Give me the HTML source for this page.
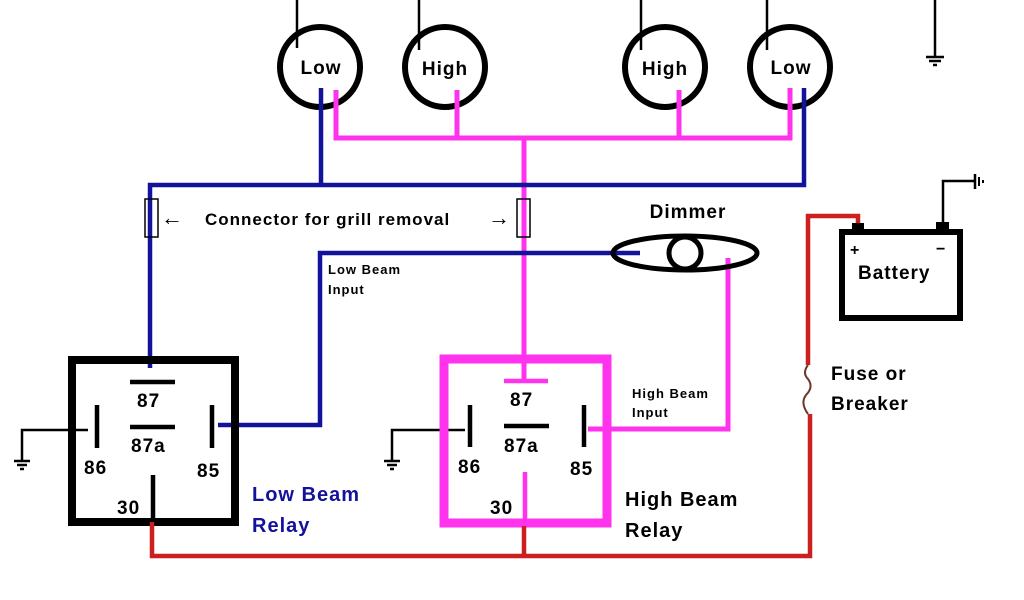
<!DOCTYPE html>
<html><head><style>body{margin:0;background:#fff}svg{display:block}text{font-family:"Liberation Sans",Arial,sans-serif;font-weight:bold;letter-spacing:1px}</style></head>
<body>
<svg width="1024" height="600" viewBox="0 0 1024 600" xmlns="http://www.w3.org/2000/svg">
<rect width="1024" height="600" fill="#fff"/>
<g fill="none" stroke="#000" stroke-width="6">
<circle cx="320" cy="67" r="40"/><circle cx="445" cy="67" r="40"/>
<circle cx="665" cy="67" r="40"/><circle cx="790" cy="67" r="40"/>
</g>
<g stroke="#000" stroke-width="2.5">
<line x1="297" y1="0" x2="297" y2="48"/><line x1="419" y1="0" x2="419" y2="50"/>
<line x1="641" y1="0" x2="641" y2="50"/><line x1="767" y1="0" x2="767" y2="50"/>
<line x1="935" y1="0" x2="935" y2="57"/>
<line x1="926" y1="57" x2="944" y2="57"/><line x1="929" y1="61" x2="941" y2="61"/><line x1="933" y1="65" x2="937" y2="65"/>
</g>
<g font-size="19" text-anchor="middle" fill="#000">
<text x="321" y="74">Low</text><text x="445" y="75">High</text><text x="665" y="75">High</text><text x="791" y="74">Low</text>
</g>
<g fill="none" stroke="#ff33ee" stroke-width="5">
<polyline points="336,90 336,138 790,138 790,88"/>
<line x1="457" y1="90" x2="457" y2="138"/><line x1="679" y1="90" x2="679" y2="138"/>
<line x1="524" y1="138" x2="524" y2="381"/>
<polyline points="728,258 728,429 588,429"/>
</g>
<g fill="none" stroke="#12129a" stroke-width="4.5">
<polyline points="321,88 321,185"/>
<polyline points="804,88 804,185 150,185 150,368"/>
<polyline points="640,253 320,253 320,425 218,425"/>
</g>
<g fill="none" stroke="#000" stroke-width="1.5">
<rect x="145" y="199" width="13" height="38"/><rect x="517" y="199" width="13" height="38"/>
</g>
<text x="161" y="225" font-size="22" font-weight="normal">←</text>
<text x="205" y="225" font-size="17">Connector for grill removal</text>
<text x="488" y="225" font-size="22" font-weight="normal">→</text>
<text x="688" y="218" font-size="19" text-anchor="middle">Dimmer</text>
<ellipse cx="685" cy="253" rx="72" ry="17" fill="none" stroke="#000" stroke-width="5"/>
<circle cx="685" cy="253" r="16" fill="none" stroke="#000" stroke-width="5"/>
<text x="328" y="274" font-size="13">Low Beam</text><text x="328" y="294" font-size="13">Input</text>
<text x="632" y="398" font-size="13">High Beam</text><text x="632" y="417" font-size="13">Input</text>
<rect x="72" y="360" width="163" height="162" fill="none" stroke="#000" stroke-width="8"/>
<g stroke="#000" stroke-width="4.5">
<line x1="130" y1="382" x2="175" y2="382"/><line x1="130" y1="427" x2="175" y2="427"/>
<line x1="97" y1="405" x2="97" y2="448"/><line x1="212" y1="405" x2="212" y2="448"/>
<line x1="153" y1="475" x2="153" y2="518"/>
</g>
<g stroke="#000" stroke-width="2.5" fill="none">
<polyline points="88,430 22,430 22,460"/>
<line x1="14" y1="461" x2="30" y2="461"/><line x1="17" y1="465" x2="27" y2="465"/><line x1="20" y1="469" x2="24" y2="469"/>
<polyline points="465,430 392,430 392,460"/>
<line x1="384" y1="461" x2="400" y2="461"/><line x1="387" y1="465" x2="397" y2="465"/><line x1="390" y1="469" x2="394" y2="469"/>
</g>
<g font-size="19" fill="#000">
<text x="137" y="407">87</text><text x="131" y="452">87a</text>
<text x="84" y="474">86</text><text x="197" y="477">85</text><text x="117" y="514">30</text>
</g>
<text x="252" y="501" font-size="20" fill="#12129a">Low Beam</text>
<text x="252" y="532" font-size="20" fill="#12129a">Relay</text>
<rect x="444" y="359" width="163" height="164" fill="none" stroke="#ff33ee" stroke-width="9"/>
<line x1="504" y1="381" x2="548" y2="381" stroke="#ff33ee" stroke-width="4.5"/>
<g stroke="#000" stroke-width="4.5">
<line x1="504" y1="426" x2="549" y2="426"/>
<line x1="470" y1="405" x2="470" y2="447"/><line x1="584" y1="405" x2="584" y2="447"/>
</g>
<line x1="525" y1="472" x2="525" y2="520" stroke="#ff33ee" stroke-width="4.5"/>
<g font-size="19" fill="#000">
<text x="510" y="406">87</text><text x="504" y="452">87a</text>
<text x="458" y="473">86</text><text x="570" y="475">85</text><text x="490" y="514">30</text>
</g>
<text x="625" y="506" font-size="20" fill="#000">High Beam</text>
<text x="625" y="537" font-size="20" fill="#000">Relay</text>
<g fill="none" stroke="#cc1f1f" stroke-width="4.5">
<polyline points="152,522 152,556 810,556 810,414"/>
<line x1="524" y1="526" x2="524" y2="556"/>
<polyline points="808,365 808,216 858,216 858,230"/>
</g>
<path d="M808,365 q-6,8 0,14 q6,8 -2,16 q-6,8 2,19" fill="none" stroke="#6b3a2a" stroke-width="2"/>
<rect x="842" y="232" width="118" height="86" fill="none" stroke="#000" stroke-width="6"/>
<rect x="852" y="223" width="12" height="9" fill="#000"/><rect x="936" y="222" width="13" height="9" fill="#000"/>
<polyline points="943,222 943,181 975,181" fill="none" stroke="#000" stroke-width="2.5"/>
<line x1="975" y1="174" x2="975" y2="189" stroke="#000" stroke-width="2.5"/>
<line x1="979" y1="177" x2="979" y2="186" stroke="#000" stroke-width="2"/>
<line x1="983" y1="180" x2="983" y2="183" stroke="#000" stroke-width="2"/>
<text x="850" y="255" font-size="16">+</text><text x="936" y="254" font-size="16">−</text>
<text x="858" y="279" font-size="19">Battery</text>
<text x="831" y="380" font-size="19">Fuse or</text>
<text x="831" y="410" font-size="19">Breaker</text>
</svg>
</body></html>
